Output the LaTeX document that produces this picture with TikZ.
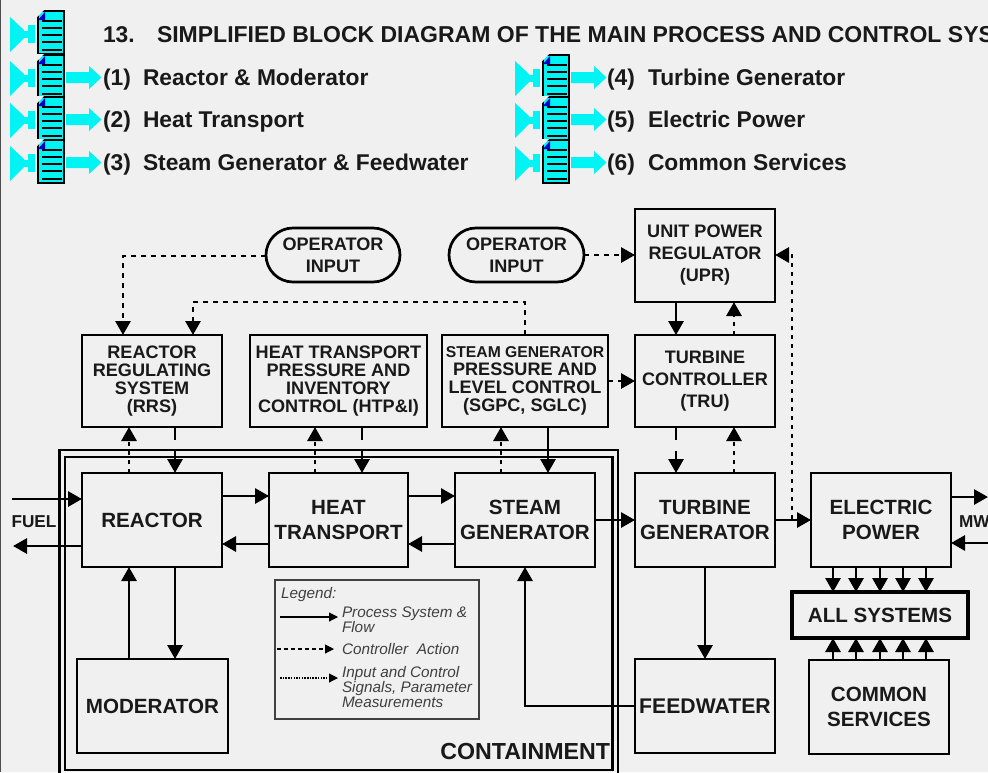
\documentclass[tikz,border=0pt]{standalone}
\usepackage{fontspec}
\setmainfont{Liberation Sans}
\usetikzlibrary{arrows.meta,shapes.misc}
\definecolor{bg}{HTML}{F0F0F0}
\definecolor{cy}{HTML}{00F4F4}
\newcommand{\fs}[2]{\fontsize{#1pt}{#2pt}\selectfont}
\tikzset{
  x=1pt,y=-1pt,
  every node/.style={inner sep=0pt,outer sep=0pt,font=\bfseries,align=center,text=black!90},
  box/.style={draw,line width=2.7pt,rectangle},
  big/.style={box,font=\bfseries\fs{20.6}{25}},
  ctl/.style={box,font=\bfseries\fs{18.1}{18}},
  ctlwide/.style={ctl,font=\bfseries\fs{18.1}{22}},
  head/.style={anchor=base west,font=\bfseries\fs{22.8}{24}},
  tip/.style={-{Triangle[length=14pt,width=15pt]}},
  proc/.style={line width=2.9pt,tip},
  split/.style={proc,dash pattern=on 13pt off 11pt on 40pt off 0pt},
  action/.style={line width=2.9pt,tip,dash pattern=on 5pt off 5pt},
  signal/.style={line width=2.9pt,tip,dash pattern=on 4.5pt off 4.5pt},
  legendtxt/.style={anchor=west,font=\itshape\mdseries\fs{15.3}{15},align=left,text=black!75},
  legarrow/.style={line width=1.1pt,-{Triangle[length=9pt,width=9pt]}},
  pics/icon/.style={code={
    \fill[cy] (10,17) -- (24,30) -- (24,38) -- (10,52) -- cycle;
    \fill[cy] (24,31) rectangle (28,38);
    \fill[cy] (28,25) rectangle (35,43);
    \fill[cy,draw=black,line width=1.1pt] (38,11) rectangle (64,54);
    \fill[bg] (37,10) -- (44,10) -- (37,17) -- cycle;
    \fill[blue!80!black] (38,20) -- (45,20) -- (45,12) -- cycle;
    \foreach \yy in {21,28,35,42,50}{\draw[line width=1.1pt] (42,\yy) -- (62,\yy);}
  }},
  pics/iconarrow/.style={code={
    \fill[cy] (66,72) -- (89,72) -- (89,66) -- (101.5,77.5) -- (89,89) -- (89,83) -- (66,83) -- cycle;
  }}
}
\begin{document}
\begin{tikzpicture}
\clip (0,0) rectangle (988,772);
\fill[bg] (0,0) rectangle (988,772);
\draw[line width=1.5pt,black!70] (0.7,0) -- (0.7,772);

% header icons
\pic at (0,0) {icon};
\foreach \dy/\ar in {44/0,86/42,129/85}{
  \pic at (0,\dy) {icon};
  \pic at (0,\ar) {iconarrow};
  \pic at (505,\dy) {icon};
  \pic at (505,\ar) {iconarrow};
}

% header text
\node[head] (t0) at (103,42) {13.};
\node[head,font=\bfseries\fs{23}{24}] (t1) at (157,42) {SIMPLIFIED BLOCK DIAGRAM OF THE MAIN PROCESS AND CONTROL SYS};
\node[head] (n1) at (103,85) {(1)};
\node[head] (l1) at (143,85) {Reactor \& Moderator};
\node[head] (n2) at (103,127) {(2)};
\node[head] (l2) at (143,127) {Heat Transport};
\node[head] (n3) at (103,170) {(3)};
\node[head] (l3) at (143,170) {Steam Generator \& Feedwater};
\node[head] (n4) at (607,85) {(4)};
\node[head] (l4) at (648,85) {Turbine Generator};
\node[head] (n5) at (607,127) {(5)};
\node[head] (l5) at (648,127) {Electric Power};
\node[head] (n6) at (607,170) {(6)};
\node[head] (l6) at (648,170) {Common Services};

% containment
\draw[line width=2.2pt] (59.5,450) rectangle (618,780);
\draw[line width=2.2pt] (65,457) rectangle (612.5,770);
\node[anchor=base east,font=\bfseries\fs{23.2}{24}] (cont) at (610,759) {CONTAINMENT};

% process blocks
\node[big,minimum width=140pt,minimum height=94pt] (reactor) at (152,520) {REACTOR};
\node[big,minimum width=139pt,minimum height=94pt] (ht) at (338.5,520) {HEAT\\TRANSPORT};
\node[big,minimum width=140pt,minimum height=94pt] (sg) at (525,520) {STEAM\\GENERATOR};
\node[big,minimum width=140pt,minimum height=94pt] (tg) at (705,520) {TURBINE\\GENERATOR};
\node[big,minimum width=140pt,minimum height=94pt] (ep) at (881,520) {ELECTRIC\\POWER};
\node[big,line width=3.6pt,minimum width=176pt,minimum height=46pt] (all) at (880,615) {ALL SYSTEMS};
\node[big,minimum width=140pt,minimum height=94pt] (cs) at (879,707) {COMMON\\SERVICES};
\node[big,font=\bfseries\fs{21.2}{25},minimum width=140pt,minimum height=94pt] (fw) at (705,706) {FEEDWATER};
\node[big,minimum width=151pt,minimum height=94pt] (mod) at (152.5,706) {MODERATOR};

% control blocks
\node[ctl,minimum width=140pt,minimum height=92pt] (rrs) at (152,381) {REACTOR\\REGULATING\\SYSTEM\\(RRS)};
\node[ctl,minimum width=177pt,minimum height=92pt] (htp) at (338.5,381) {HEAT TRANSPORT\\PRESSURE AND\\INVENTORY\\CONTROL (HTP\&I)};
\node[ctl,minimum width=166pt,minimum height=92pt] (sgc) at (525,381) {{\fs{15.7}{18}STEAM GENERATOR}\\PRESSURE AND\\LEVEL CONTROL\\(SGPC, SGLC)};
\node[ctlwide,minimum width=140pt,minimum height=92pt] (tru) at (705,381) {TURBINE\\CONTROLLER\\(TRU)};
\node[ctlwide,minimum width=140pt,minimum height=93pt] (upr) at (705,255.5) {UNIT POWER\\REGULATOR\\(UPR)};
\node[ctlwide,rounded rectangle,minimum width=134pt,minimum height=54pt] (op1) at (333,255) {OPERATOR\\INPUT};
\node[ctlwide,rounded rectangle,minimum width=135pt,minimum height=54pt] (op2) at (516.5,255) {OPERATOR\\INPUT};

% free ends and bends
\coordinate (fuelin) at (12,499);
\coordinate (fuelout) at (13,546);
\coordinate (mwout) at (988,497);
\coordinate (mwin) at (988,543);
\coordinate (bendA) at (123,256);
\coordinate (bendB) at (525,302);
\coordinate (bendC) at (193,302);
\coordinate (bendD) at (792,519);
\coordinate (bendE) at (792,255);
\coordinate (bendF) at (525,706);

\node[font=\bfseries\fs{17.2}{18}] (fuel) at (34,522) {FUEL};
\node[anchor=west,font=\bfseries\fs{17.2}{18}] (mw) at (959,522) {MW};

% process flow
\draw[proc] (fuelin) -- (reactor.west |- fuelin);
\draw[proc] (reactor.west |- fuelout) -- (fuelout);
\draw[proc] ([yshift=24pt]reactor.east) -- ([yshift=24pt]ht.west);
\draw[proc] ([yshift=-24pt]ht.west) -- ([yshift=-24pt]reactor.east);
\draw[proc] ([yshift=24pt]ht.east) -- ([yshift=24pt]sg.west);
\draw[proc] ([yshift=-24pt]sg.west) -- ([yshift=-24pt]ht.east);
\draw[proc] (sg.east) -- (tg.west);
\draw[proc] (tg.east) -- (ep.west);
\draw[proc] (ep.east |- mwout) -- (mwout);
\draw[proc] (mwin) -- (ep.east |- mwin);
\draw[proc] (mod.north -| 129,0) -- (reactor.south -| 129,0);
\draw[proc] (reactor.south -| 175,0) -- (mod.north -| 175,0);
\draw[proc] (tg.south) -- (fw.north);
\draw[proc] (fw.west) -- (bendF) -- (sg.south);
\foreach \xx in {833,856,880,903,926}{
  \draw[proc] (ep.south -| \xx,0) -- (all.north -| \xx,0);
  \draw[proc] (cs.north -| \xx,0) -- (all.south -| \xx,0);
}

% controller action
\draw[split] ([xshift=23pt]rrs.south) -- ([xshift=23pt]reactor.north);
\draw[split] ([xshift=23.5pt]htp.south) -- ([xshift=23.5pt]ht.north);
\draw[proc] ([xshift=23pt]sgc.south) -- ([xshift=23pt]sg.north);
\draw[split] ([xshift=-29pt]tru.south) -- ([xshift=-29pt]tg.north);
\draw[proc] ([xshift=-29pt]upr.south) -- ([xshift=-29pt]tru.north);
\draw[action] (op1.west |- bendA) -- (bendA) -- (rrs.north -| bendA);
\draw[action] (op2.east) -- (upr.west |- op2.east);
\draw[action] (sgc.east) -- (tru.west);
\draw[action] (sgc.north) -- (bendB) -- (bendC) -- (rrs.north -| bendC);

% signals
\draw[signal] ([xshift=-23pt]reactor.north) -- ([xshift=-23pt]rrs.south);
\draw[signal] ([xshift=-23.5pt]ht.north) -- ([xshift=-23.5pt]htp.south);
\draw[signal] ([xshift=-24pt]sg.north) -- ([xshift=-24pt]sgc.south);
\draw[signal] ([xshift=29pt]tg.north) -- ([xshift=29pt]tru.south);
\draw[signal] ([xshift=29pt]tru.north) -- ([xshift=29pt]upr.south);
\draw[signal] (bendD) -- (bendE) -- (upr.east |- bendE);

% legend
\node[draw=black!75,line width=1.1pt,minimum width=204pt,minimum height=139pt] (leg) at (377,649.5) {};
\node[legendtxt] (lg0) at (281,595) {Legend:};
\node[legendtxt] (lg1) at (342,619.5) {Process System \&\\Flow};
\node[legendtxt] (lg2) at (342,649) {Controller\ \ Action};
\node[legendtxt] (lg3) at (342,687) {Input and Control\\Signals, Parameter\\Measurements};
\coordinate (a1) at (280,617);
\coordinate (a2) at (277,649);
\coordinate (a3) at (280,678);
\coordinate (b1) at (338,617);
\coordinate (b2) at (334,649);
\coordinate (b3) at (338,678);
\draw[legarrow] (a1) -- (b1);
\draw[legarrow,dash pattern=on 4pt off 3pt] (a2) -- (b2);
\draw[legarrow,dash pattern=on 1.5pt off 1.2pt] (a3) -- (b3);
\end{tikzpicture}
\end{document}
